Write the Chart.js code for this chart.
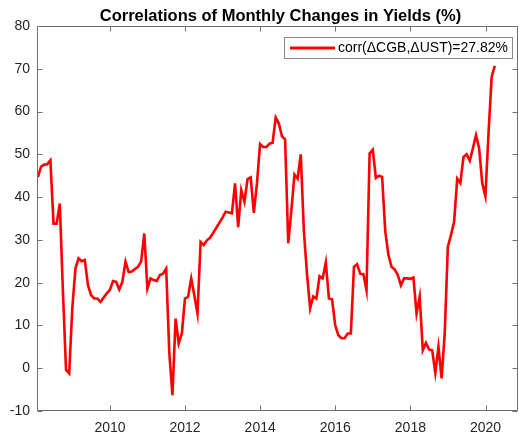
<!DOCTYPE html>
<html>
<head>
<meta charset="utf-8">
<script src="https://cdn.jsdelivr.net/npm/chart.js@4.4.1/dist/chart.umd.min.js"></script>
<style>
  html, body { margin: 0; padding: 0; background: #ffffff; }
  #wrap { width: 519px; height: 435px; position: relative; }
</style>
</head>
<body>
<div id="wrap"><canvas id="c" width="519" height="435"></canvas></div>
<script>
// ---- data (monthly, first observation Jan 2008) ----
const titleText = "Correlations of Monthly Changes in Yields (%)";
const seriesLabel = "corr(\u0394CGB,\u0394UST)=27.82%";
const startYear = 2008;
const startMonth = 1; // January
const corrValues = [
  44.7, 47.1, 47.6, 47.7, 48.6, 33.8, 33.8, 38.5, 18, -0.4,
  -1.2, 14, 23.3, 25.7, 25, 25.3, 19.4, 17.1, 16.3, 16.3,
  15.5, 16.5, 17.5, 18.3, 20.4, 20.2, 18.4, 20.2, 24.9, 22.5,
  22.6, 23.2, 23.7, 25, 31.5, 18.6, 21, 20.6, 20.4, 21.8,
  22.1, 23.3, 3.5, -6.3, 11.6, 5.8, 8.1, 16.3, 16.7, 21,
  17, 12.8, 29.5, 28.8, 29.9, 30.5, 31.6, 32.8, 34, 35.2,
  36.6, 36.4, 36.2, 43.2, 33, 41.6, 38.9, 44.2, 44.6, 36.3,
  43.2, 52.4, 51.7, 51.7, 52.5, 52.7, 58.6, 57.2, 54.2, 53.5,
  29.2, 36.9, 45.3, 44.3, 50, 32, 22, 14, 16.8, 16.3,
  21.5, 21, 24.7, 16.3, 16.1, 10.1, 7.7, 7, 7, 8.1,
  8.1, 23.7, 24.3, 22.1, 22, 18.2, 50.2, 51.1, 44.5, 45,
  44.7, 32, 26.5, 23.7, 23.1, 21.8, 19.4, 21, 21, 20.9,
  21.2, 12.8, 16.7, 4.2, 5.9, 4.4, 4.2, -1.1, 5, -2.4,
  8.1, 28.4, 31.1, 34.2, 44.3, 43.3, 49.4, 50, 48.5, 51.4,
  54.5, 51.4, 43.2, 40.2, 55, 68.1, 70.7
];
const xTickYears = [2010, 2012, 2014, 2016, 2018, 2020];
const yTickValues = [-10, 0, 10, 20, 30, 40, 50, 60, 70, 80];
const xMin = 2008.057, xMax = 2020.865;
const yMin = -10, yMax = 80;

// decimal-year dates for each monthly observation (month-end)
const dates = corrValues.map((_, i) => startYear + (startMonth - 1 + i + 1) / 12 - 0.003);
const points = corrValues.map((v, i) => ({ x: dates[i], y: v }));

const AXIS_COLOR = '#6f6f6f';
const TEXT_COLOR = '#262626';
const FONT = 'Liberation Sans, Arial, Helvetica, sans-serif';

const matlabAxes = {
  id: 'matlabAxes',
  afterDatasetsDraw(chart) {
    const { ctx, chartArea: a, scales } = chart;
    const L = Math.round(a.left) + 0.5, R = Math.round(a.right) - 0.5;
    const T = Math.round(a.top) + 0.5, B = Math.round(a.bottom) - 0.5;
    ctx.save();
    ctx.strokeStyle = AXIS_COLOR;
    ctx.lineWidth = 1;
    ctx.beginPath();
    ctx.rect(L, T, R - L, B - T);
    ctx.stroke();
    const tl = 5;
    ctx.beginPath();
    scales.x.ticks.forEach(t => {
      const px = Math.round(scales.x.getPixelForValue(t.value)) + 0.5;
      ctx.moveTo(px, B); ctx.lineTo(px, B - tl);
      ctx.moveTo(px, T); ctx.lineTo(px, T + tl);
    });
    scales.y.ticks.forEach(t => {
      const py = Math.round(scales.y.getPixelForValue(t.value)) + 0.5;
      ctx.moveTo(L, py); ctx.lineTo(L + tl, py);
      ctx.moveTo(R, py); ctx.lineTo(R - tl, py);
    });
    ctx.stroke();

    // legend box (inside upper right)
    const bx = 284.5, by = 37.5, bw = 228, bh = 21;
    ctx.fillStyle = '#ffffff';
    ctx.fillRect(bx, by, bw, bh);
    ctx.strokeStyle = '#8a8a8a';
    ctx.strokeRect(bx, by, bw, bh);
    const ds = chart.data.datasets[0];
    ctx.strokeStyle = ds.borderColor;
    ctx.lineWidth = 3;
    ctx.beginPath();
    ctx.moveTo(290, 48); ctx.lineTo(335, 48);
    ctx.stroke();
    ctx.fillStyle = '#000000';
    ctx.font = '14px ' + FONT;
    ctx.textBaseline = 'middle';
    ctx.textAlign = 'left';
    ctx.fillText(ds.label, 338, 48.5);

    // title centred over plot area
    ctx.font = 'bold 16.5px ' + FONT;
    ctx.textAlign = 'center';
    ctx.textBaseline = 'alphabetic';
    ctx.fillStyle = '#000000';
    ctx.fillText(titleText, (a.left + a.right) / 2 + 3, 20.5);
    ctx.restore();
  }
};

new Chart(document.getElementById('c'), {
  type: 'line',
  data: {
    datasets: [{
      label: seriesLabel,
      data: points,
      borderColor: '#ff0000',
      borderWidth: 2.6,
      pointRadius: 0,
      tension: 0,
      fill: false
    }]
  },
  options: {
    responsive: false,
    animation: false,
    devicePixelRatio: 1,
    layout: { padding: { top: 26, right: 1, left: 0, bottom: 0 } },
    plugins: {
      legend: { display: false },
      title: { display: false },
      tooltip: { enabled: false }
    },
    scales: {
      x: {
        type: 'linear',
        min: xMin, max: xMax,
        afterBuildTicks: s => { s.ticks = xTickYears.map(v => ({ value: v })); },
        afterFit: s => { s.height = 24; },
        grid: { display: false, drawTicks: false },
        border: { display: false },
        ticks: {
          color: TEXT_COLOR,
          font: { family: FONT, size: 14 },
          padding: 9,
          maxRotation: 0,
          autoSkip: false,
          callback: v => String(v)
        }
      },
      y: {
        type: 'linear',
        min: yMin, max: yMax,
        afterBuildTicks: s => { s.ticks = yTickValues.map(v => ({ value: v })); },
        afterFit: s => { s.width = 37; },
        grid: { display: false, drawTicks: false },
        border: { display: false },
        ticks: {
          color: TEXT_COLOR,
          font: { family: FONT, size: 14 },
          padding: 7,
          autoSkip: false,
          callback: v => String(v)
        }
      }
    }
  },
  plugins: [matlabAxes]
});
</script>
</body>
</html>
